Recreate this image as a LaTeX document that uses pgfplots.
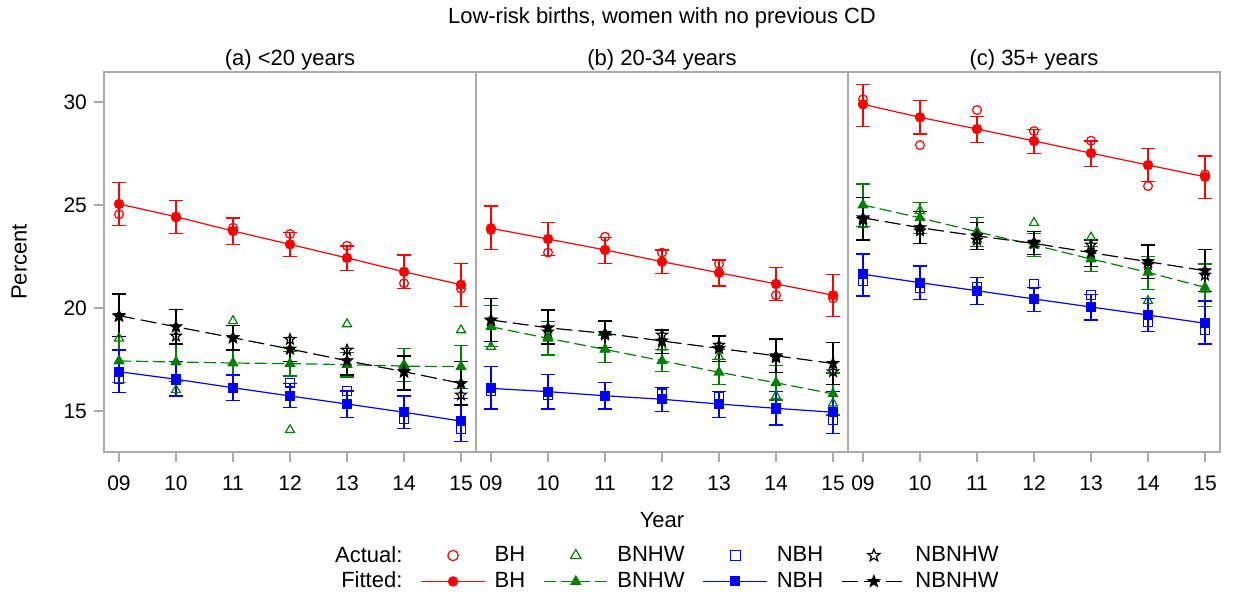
\documentclass[border=0pt]{standalone}
\usepackage{fontspec}
\setmainfont{Liberation Sans}
\usepackage{pgfplots}
\pgfplotsset{compat=1.18}
\usepackage{pgfplotstable}

\definecolor{sasgreen}{RGB}{0,128,0}
\definecolor{framegray}{RGB}{170,170,170}

% five-point stars, filled and open
\newcommand{\starpath}{%
  \pgfpathmoveto{\pgfpointpolar{90}{\pgfplotmarksize}}%
  \pgfpathlineto{\pgfpointpolar{126}{0.42\pgfplotmarksize}}%
  \pgfpathlineto{\pgfpointpolar{162}{\pgfplotmarksize}}%
  \pgfpathlineto{\pgfpointpolar{198}{0.42\pgfplotmarksize}}%
  \pgfpathlineto{\pgfpointpolar{234}{\pgfplotmarksize}}%
  \pgfpathlineto{\pgfpointpolar{270}{0.42\pgfplotmarksize}}%
  \pgfpathlineto{\pgfpointpolar{306}{\pgfplotmarksize}}%
  \pgfpathlineto{\pgfpointpolar{342}{0.42\pgfplotmarksize}}%
  \pgfpathlineto{\pgfpointpolar{18}{\pgfplotmarksize}}%
  \pgfpathlineto{\pgfpointpolar{54}{0.42\pgfplotmarksize}}%
  \pgfpathclose}
\pgfdeclareplotmark{fstar}{\starpath\pgfusepathqfillstroke}
\pgfdeclareplotmark{ostar}{\starpath\pgfusepathqstroke}

% a = actual, f = fitted, l/h = error bar ends
\pgfplotstableread{
x BHa BHf BHl BHh BNa BNf BNl BNh NBa NBf NBl NBh NNa NNf NNl NNh
9  24.55 25.05 24.01 26.08 18.53 17.43 16.37 18.60 16.54 16.91 15.90 17.96 19.60 19.63 18.60 20.68
10 24.40 24.43 23.62 25.21 16.02 17.38 16.42 18.29 16.50 16.54 15.73 17.39 18.64 19.09 18.25 19.94
11 23.90 23.74 23.09 24.37 19.37 17.33 16.75 17.96 16.10 16.13 15.50 16.75 18.56 18.56 17.96 19.17
12 23.59 23.09 22.52 23.67 14.08 17.30 16.70 17.90 16.37 15.73 15.16 16.34 18.48 18.01 17.39 18.56
13 23.02 22.43 21.81 23.01 19.22 17.25 16.65 17.85 15.97 15.34 14.69 15.97 17.96 17.44 16.75 18.04
14 21.20 21.76 20.94 22.57 17.25 17.18 16.42 18.04 14.61 14.94 14.14 15.73 16.90 16.91 16.02 17.67
15 20.94 21.13 20.08 22.15 18.93 17.15 16.10 18.20 14.11 14.51 13.51 15.62 15.78 16.34 15.29 17.39
}\tabA
\pgfplotstableread{
x BHa BHf BHl BHh BNa BNf BNl BNh NBa NBf NBl NBh NNa NNf NNl NNh
9  23.79 23.87 22.86 24.95 18.12 19.09 18.12 20.11 15.97 16.10 15.10 17.18 19.40 19.42 18.36 20.47
10 22.69 23.35 22.54 24.14 18.60 18.53 17.72 19.34 15.78 15.94 15.10 16.78 18.84 19.04 18.25 19.90
11 23.46 22.82 22.17 23.43 18.00 17.99 17.34 18.69 15.70 15.74 15.10 16.37 18.70 18.77 18.09 19.37
12 22.69 22.25 21.69 22.82 18.09 17.44 16.90 18.00 15.86 15.57 14.97 16.15 18.69 18.40 17.80 18.93
13 22.14 21.71 21.07 22.33 17.64 16.88 16.30 17.50 15.68 15.34 14.67 15.94 18.20 18.04 17.39 18.64
14 20.62 21.17 20.35 21.97 15.73 16.37 15.53 17.20 15.10 15.13 14.32 15.94 17.60 17.68 16.88 18.50
15 20.47 20.62 19.58 21.64 15.37 15.83 14.81 16.85 14.56 14.94 13.92 15.96 16.91 17.31 16.30 18.33
}\tabB
\pgfplotstableread{
x BHa BHf BHl BHh BNa BNf BNl BNh NBa NBf NBl NBh NNa NNf NNl NNh
9  30.13 29.89 28.80 30.87 24.03 25.00 23.95 26.02 21.28 21.64 20.58 22.62 24.30 24.38 23.30 25.37
10 27.91 29.26 28.45 30.06 24.72 24.38 23.62 25.13 20.96 21.23 20.42 22.04 23.75 23.90 23.14 24.67
11 29.61 28.69 28.04 29.29 23.30 23.70 23.00 24.40 21.03 20.84 20.18 21.47 23.30 23.50 22.85 24.16
12 28.59 28.11 27.51 28.67 24.14 23.06 22.50 23.62 21.17 20.44 19.85 20.99 23.20 23.14 22.60 23.70
13 28.12 27.52 26.86 28.11 23.43 22.38 21.76 22.98 20.63 20.05 19.42 20.66 23.06 22.69 22.00 23.30
14 25.92 26.94 26.13 27.75 20.35 21.73 20.90 22.52 19.31 19.66 18.85 20.47 22.10 22.25 21.44 23.06
15 26.49 26.37 25.33 27.38 20.90 21.00 20.06 22.14 18.90 19.26 18.25 20.34 21.60 21.81 20.79 22.85
}\tabC

\pgfplotsset{
  panel/.style={
    scale only axis, width=186pt, height=190pt,
    xmin=8.737, xmax=15.263, ymin=13.01, ymax=31.46,
    axis line style={framegray, line width=0.8pt},
    tick style={framegray, line width=0.8pt},
    tick align=outside, major tick length=5pt,
    xtick={9,...,15}, xticklabels={09,10,11,12,13,14,15},
    xtick pos=left, ytick pos=left,
    /pgf/number format/assume math mode=true,
    tick label style={font=\fontsize{10.5}{12}\selectfont, black},
    xticklabel style={yshift=-3.5pt},
    every axis title shift=0pt,
    title style={font=\fontsize{11}{13}\selectfont, at={(axis description cs:0.5,1.032)}, anchor=center},
    label style={font=\fontsize{11}{13}\selectfont},
  },
  act/.style={only marks, line width=0.6pt, forget plot},
  fit/.style={line width=0.6pt, mark options={solid}, forget plot,
    /pgfplots/error bars/y dir=both, /pgfplots/error bars/y explicit,
    /pgfplots/error bars/error mark=-,
    /pgfplots/error bars/error bar style={solid, line width=0.6pt},
    /pgfplots/error bars/error mark options={rotate=90, solid, line width=0.6pt, mark size=3.3pt}},
  mlegend/.style={legend image code/.code={\path[draw=none, fill=none] (0pt,-2pt) rectangle (32pt,2pt); \draw[##1] plot coordinates {(16pt,0pt)};}},
  llegend/.style={legend image code/.code={\draw[mark repeat=2,mark phase=2,##1] plot coordinates {(0pt,0pt) (16pt,0pt) (32pt,0pt)};}},
}

\newcommand{\drawpanel}[1]{%
  \addplot[red, mark=o, mark size=2.2pt, act] table[x=x, y=BHa] {#1};
  \addplot[sasgreen, mark=triangle, mark size=2.6pt, act] table[x=x, y=BNa] {#1};
  \addplot[blue, mark=square, mark size=2.1pt, act] table[x=x, y=NBa] {#1};
  \addplot[black, mark=ostar, mark size=2.8pt, act] table[x=x, y=NNa] {#1};
  \addplot[red, mark=*, mark size=2.3pt, fit] table[x=x, y=BHf,
    y error plus expr=\thisrow{BHh}-\thisrow{BHf}, y error minus expr=\thisrow{BHf}-\thisrow{BHl}] {#1};
  \addplot[sasgreen, dash pattern=on 6pt off 2.5pt, mark=triangle*, mark size=2.7pt, fit] table[x=x, y=BNf,
    y error plus expr=\thisrow{BNh}-\thisrow{BNf}, y error minus expr=\thisrow{BNf}-\thisrow{BNl}] {#1};
  \addplot[blue, mark=square*, mark size=2.2pt, fit] table[x=x, y=NBf,
    y error plus expr=\thisrow{NBh}-\thisrow{NBf}, y error minus expr=\thisrow{NBf}-\thisrow{NBl}] {#1};
  \addplot[black, dash pattern=on 8pt off 3pt, mark=fstar, mark size=2.9pt, fit] table[x=x, y=NNf,
    y error plus expr=\thisrow{NNh}-\thisrow{NNf}, y error minus expr=\thisrow{NNf}-\thisrow{NNl}] {#1};
}

\begin{document}
\begin{tikzpicture}
\path[use as bounding box] (-52pt,-73.5pt) rectangle (564.5pt,226pt);

\begin{axis}[panel, at={(0pt,0pt)}, anchor=south west,
  title={(a) <20 years}, ylabel={Percent},
  ytick={15,20,25,30},
  ylabel style={at={(axis description cs:-0.228,0.5)}, anchor=center}]
\drawpanel{\tabA}
\end{axis}

\begin{axis}[panel, at={(186pt,0pt)}, anchor=south west,
  title={(b) 20-34 years}, ytick=\empty, xlabel={Year},
  xlabel style={at={(axis description cs:0.5,-0.179)}, anchor=center},
  llegend,
  legend columns=5,
  legend style={at={(axis description cs:0.5,-0.3066)}, anchor=center,
    draw=none, fill=none, font=\fontsize{11}{13}\selectfont,
    row sep=-0.5pt,
    /tikz/every odd column/.append style={column sep=2.5pt},
    /tikz/every even column/.append style={column sep=7pt}}]
\drawpanel{\tabB}
\addlegendimage{empty legend}
\addlegendentry{\makebox[36pt][r]{Actual:}}
\addlegendimage{red, only marks, mark=o, mark size=2.6pt, line width=0.6pt, mlegend}
\addlegendentry{BH}
\addlegendimage{sasgreen, only marks, mark=triangle, mark size=3pt, line width=0.6pt, mlegend}
\addlegendentry{BNHW}
\addlegendimage{blue, only marks, mark=square, mark size=2.5pt, line width=0.6pt, mlegend}
\addlegendentry{NBH}
\addlegendimage{black, only marks, mark=ostar, mark size=3.2pt, line width=0.6pt, mlegend}
\addlegendentry{NBNHW}
\addlegendimage{empty legend}
\addlegendentry{\makebox[36pt][r]{Fitted:}}
\addlegendimage{red, line width=0.6pt, mark=*, mark size=2.3pt}
\addlegendentry{BH}
\addlegendimage{sasgreen, line width=0.6pt, dash pattern=on 6pt off 2.5pt, mark=triangle*, mark size=2.7pt, mark options={solid}}
\addlegendentry{BNHW}
\addlegendimage{blue, line width=0.6pt, mark=square*, mark size=2.2pt}
\addlegendentry{NBH}
\addlegendimage{black, line width=0.6pt, dash pattern=on 8pt off 3pt, mark=fstar, mark size=2.9pt, mark options={solid}}
\addlegendentry{NBNHW}
\end{axis}

\begin{axis}[panel, at={(372pt,0pt)}, anchor=south west,
  title={(c) 35+ years}, ytick=\empty]
\drawpanel{\tabC}
\end{axis}

\node[font=\fontsize{11}{13}\selectfont] at (279pt,217pt) {Low-risk births, women with no previous CD};
\end{tikzpicture}
\end{document}
